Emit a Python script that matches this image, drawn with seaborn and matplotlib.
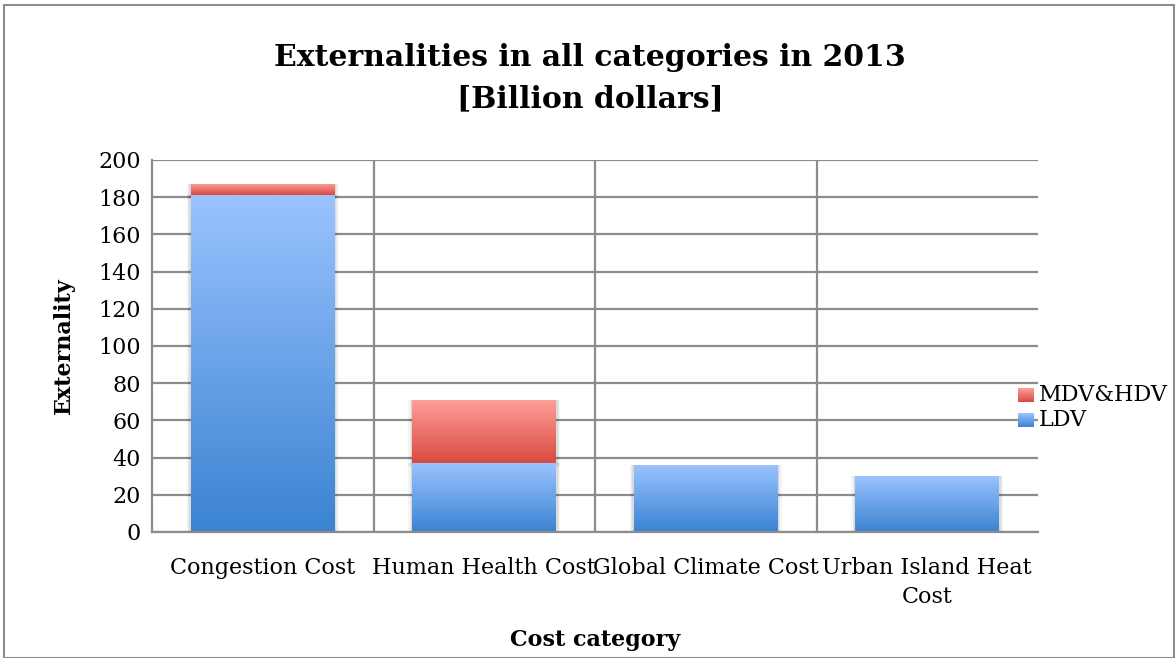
import numpy as np
import matplotlib
matplotlib.use("Agg")
import matplotlib.pyplot as plt
import seaborn as sns
from matplotlib.colors import LinearSegmentedColormap
from matplotlib.patches import Rectangle

categories = ["Congestion Cost", "Human Health Cost", "Global Climate Cost", "Urban Island Heat\nCost"]
ldv = [181, 37, 36, 30]
mdv_hdv = [6, 34, 0, 0]
y_ticks = [0, 20, 40, 60, 80, 100, 120, 140, 160, 180, 200]

totals = [a + b for a, b in zip(ldv, mdv_hdv)]

sns.set_theme(style="white")
plt.rcParams["font.family"] = ["DejaVu Serif"]
plt.rcParams["text.color"] = "black"
plt.rcParams["axes.labelcolor"] = "black"

fig = plt.figure(figsize=(11.75, 6.58), dpi=100)
ax = fig.add_axes([152 / 1175, 1 - 532 / 658, (1038 - 152) / 1175, (532 - 160) / 658])

grid_c = "#8c8c8c"

sns.barplot(x=categories, y=totals, color="#f08a82", width=0.65, ax=ax, zorder=3)
n_red = len(ax.patches)
sns.barplot(x=categories, y=ldv, color="#7fb0f0", width=0.65, ax=ax, zorder=4)

blue_cmap = LinearSegmentedColormap.from_list("b", ["#3a83d1", "#9ac3ff"])
red_cmap = LinearSegmentedColormap.from_list("r", ["#d84a3e", "#ff9f9b"])
grad = np.linspace(0, 1, 256).reshape(-1, 1)

patches = list(ax.patches)
for i, p in enumerate(patches):
    x0, w = p.get_x(), p.get_width()
    top = p.get_height()
    if i < n_red:
        cmap, lo, z = red_cmap, ldv[i], 3
    else:
        cmap, lo, z = blue_cmap, 0, 4
    if top - lo <= 0:
        p.set_visible(False)
        continue
    p.set_facecolor("none")
    p.set_edgecolor("none")
    # soft drop shadow behind each bar
    for k, a in enumerate([0.06, 0.05, 0.04]):
        sh = Rectangle((x0 - 0.006 * (k + 1), lo - 0.6 * (k + 1)), w + 0.012 * (k + 1), top - lo + 0.6 * (k + 1),
                       facecolor="black", alpha=a, edgecolor="none", zorder=2.5)
        ax.add_patch(sh)
    im = ax.imshow(grad, cmap=cmap, aspect="auto", origin="lower",
                   extent=(x0, x0 + w, lo, top), zorder=z)
    clip = Rectangle((x0, lo), w, top - lo, transform=ax.transData, facecolor="none", edgecolor="none")
    ax.add_patch(clip)
    im.set_clip_path(clip)

ax.set_xlim(-0.5, len(categories) - 0.5)
ax.set_ylim(0, 200)
ax.set_yticks(y_ticks)
ax.set_yticklabels([str(t) for t in y_ticks])

for y in y_ticks:
    ax.axhline(y, color=grid_c, lw=1.6, zorder=1)
for xv in np.arange(0.5, len(categories) - 0.5, 1):
    ax.axvline(xv, color=grid_c, lw=1.6, zorder=1)

for s in ["top", "right"]:
    ax.spines[s].set_visible(False)
for s in ["left", "bottom"]:
    ax.spines[s].set_color(grid_c)
    ax.spines[s].set_linewidth(1.6)
    ax.spines[s].set_zorder(5)

ax.tick_params(axis="both", length=0, labelsize=16, colors="black")
ax.tick_params(axis="y", pad=8)
ax.tick_params(axis="x", pad=18)
for lbl in ax.get_xticklabels():
    lbl.set_linespacing(1.4)

ax.set_xlabel("Cost category", fontsize=16, fontweight="bold", labelpad=15)
ax.set_ylabel("Externality", fontsize=16, fontweight="bold", labelpad=17)

fig.text(590 / 1175, 1 - 78 / 658, "Externalities in all categories in 2013\n[Billion dollars]",
         ha="center", va="center", fontsize=21.5, fontweight="bold", linespacing=1.55)

# legend entries with gradient swatches
leg_items = [("MDV&HDV", red_cmap, 395), ("LDV", blue_cmap, 420)]
for label, cmap, ypix in leg_items:
    sx, sw, sh_ = 1018 / 1175, 16 / 1175, 14 / 658
    sy = 1 - (ypix + 7) / 658
    sax = fig.add_axes([sx, sy, sw, sh_])
    sax.imshow(grad, cmap=cmap, aspect="auto", origin="lower")
    sax.set_axis_off()
    fig.text(1039 / 1175, 1 - ypix / 658, label, ha="left", va="center", fontsize=16)

# outer frame of the figure
fig.patches.append(Rectangle((4 / 1175, 0), 1 - 4 / 1175 - 0.0005, 1 - 5 / 658, transform=fig.transFigure,
                             fill=False, edgecolor="#8c8c8c", lw=1.5))

fig.savefig("out.png", dpi=100)
